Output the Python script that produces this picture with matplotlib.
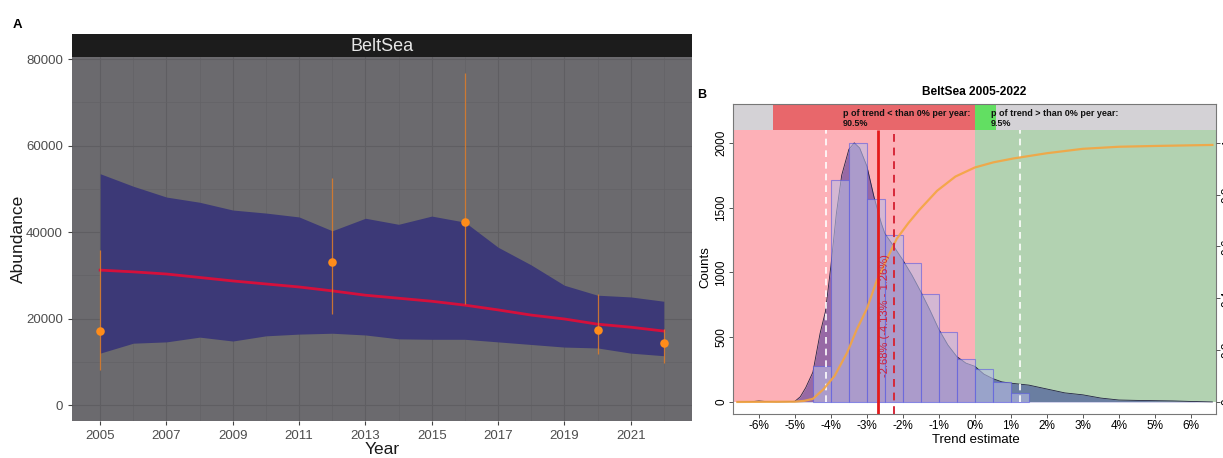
import numpy as np
import matplotlib
matplotlib.use('Agg')
import matplotlib.pyplot as plt
from matplotlib.patches import Rectangle

plt.rcParams['font.family'] = ['Liberation Sans', 'DejaVu Sans']

# ---- Panel A data (abundance model, BeltSea)
years = list(range(2005, 2023))
upper = [53500, 50600, 48100, 46900, 45100, 44400, 43500, 40300, 43200,
         41800, 43700, 42300, 36500, 32400, 27700, 25400, 25000, 24000]
lower = [12000, 14300, 14600, 15700, 14800, 16000, 16400, 16600, 16200,
         15300, 15200, 15200, 14600, 14000, 13400, 13200, 12000, 11400]
trend = [31200, 30800, 30300, 29500, 28700, 28000, 27300, 26400, 25400,
         24700, 24000, 23100, 22000, 20800, 19900, 18700, 18000, 17100]
obs_years = [2005, 2012, 2016, 2020, 2022]
obs = [17100, 33100, 42300, 17300, 14300]
obs_lo = [8100, 21000, 23400, 11800, 9700]
obs_hi = [35800, 52500, 76700, 25600, 17500]

# ---- Panel B data (trend distribution)
bin_edges = [-4.5, -4.0, -3.5, -3.0, -2.5, -2.0, -1.5, -1.0, -0.5, 0.0, 0.5, 1.0, 1.5]
counts = [280, 1710, 2000, 1570, 1290, 1075, 834, 540, 330, 255, 155, 70]
dens_x = [-6.6, -6.2, -6.0, -5.8, -5.5, -5.2, -5.0, -4.85, -4.7, -4.5, -4.3, -4.15,
          -4.0, -3.85, -3.7, -3.5, -3.35, -3.2, -3.0, -2.8, -2.6, -2.5, -2.25, -2.0,
          -1.75, -1.5, -1.25, -1.0, -0.75, -0.5, -0.25, 0.0, 0.25, 0.5, 0.75, 1.0,
          1.5, 2.0, 2.5, 3.0, 3.5, 4.0, 4.5, 5.0, 5.5, 6.0, 6.6]
dens_y = [0, 2, 8, 3, 0, 2, 5, 40, 110, 230, 530, 700,
          1050, 1450, 1750, 1950, 2000, 1960, 1820, 1580, 1380, 1300, 1200, 1095,
          980, 850, 710, 560, 440, 350, 300, 275, 215, 180, 155, 145,
          130, 100, 70, 55, 30, 15, 12, 10, 8, 4, 0]
cum_x = [-6.6, -5.0, -4.75, -4.5, -4.2, -3.9, -3.55, -3.28, -3.0, -2.72, -2.45,
         -2.17, -1.85, -1.55, -1.05, -0.54, 0.0, 0.52, 1.08, 2.0, 3.0, 4.0, 5.0, 6.6]
cum_y = [0, 0.001, 0.004, 0.012, 0.05, 0.1, 0.19, 0.28, 0.36, 0.47, 0.55,
         0.63, 0.69, 0.74, 0.815, 0.87, 0.905, 0.925, 0.94, 0.96, 0.977, 0.985, 0.988, 0.992]
median = -2.68
mean_est = -2.25
ci_lo, ci_hi = -4.13, 1.26
p_neg, p_pos = 90.5, 9.5
xticks_b = list(range(-6, 7))

W, H = 1223, 458
fig = plt.figure(figsize=(W / 100, H / 100), dpi=100)
fig.patch.set_facecolor('white')


def px_axes(l, t, r, b):
    return fig.add_axes([l / W, 1 - b / H, (r - l) / W, (b - t) / H])


# ================= Panel A
axA = px_axes(72, 57, 692, 421)
axA.set_facecolor('#6b6a6e')
axA.fill_between(years, lower, upper, color='#3c3977', lw=0, zorder=2)
axA.plot(years, trend, color='#d4103c', lw=2, zorder=3)
axA.vlines(obs_years, obs_lo, obs_hi, color='#e07d2a', lw=0.9, alpha=0.85, zorder=4)
axA.scatter(obs_years, obs, s=38, color='#ff8c1a', zorder=5, linewidths=0)
axA.set_xlim(2004.15, 2022.85)
axA.set_ylim(-3700, 80500)
axA.set_xticks(range(2005, 2023, 2))
axA.set_xticks(range(2006, 2023, 2), minor=True)
axA.set_yticks(range(0, 80001, 20000))
axA.set_yticks(range(10000, 80001, 20000), minor=True)
axA.grid(which='major', color='#5f5e62', lw=0.8, zorder=0)
axA.grid(which='minor', color='#636266', lw=0.5, zorder=0)
axA.set_axisbelow(True)
for s in axA.spines.values():
    s.set_visible(False)
axA.tick_params(which='major', length=3, color='#444444', labelcolor='#4d4d4d', labelsize=9.5)
axA.tick_params(which='minor', length=0)
fig.text(382 / W, 1 - 450 / H, 'Year', ha='center', va='center', size=12.5, color='#1a1a1a')
fig.text(18 / W, 1 - 239 / H, 'Abundance', ha='center', va='center', rotation=90, size=12.5, color='#1a1a1a')

strip = px_axes(72, 34, 692, 57)
strip.set_facecolor('#1c1c1c')
strip.set_xticks([])
strip.set_yticks([])
for s in strip.spines.values():
    s.set_visible(False)
strip.text(0.5, 0.47, 'BeltSea', ha='center', va='center', color='#e6e6e6', size=13,
           transform=strip.transAxes)
fig.text(17 / W, 1 - 25 / H, 'A', ha='center', va='center', weight='bold', size=9.5)

# ================= Panel B
axB = px_axes(733, 104, 1216, 414)
xl, xr = -6.72, 6.70
yb, strip_lo, strip_hi = -93, 2100, 2300
axB.set_xlim(xl, xr)
axB.set_ylim(yb, strip_hi)

axB.add_patch(Rectangle((xl, 0), 0 - xl, strip_lo, color='#fdb0b7', lw=0, zorder=0))
axB.add_patch(Rectangle((0, 0), xr, strip_lo, color='#b2d2b1', lw=0, zorder=0))
axB.add_patch(Rectangle((xl, strip_lo), xr - xl, strip_hi - strip_lo, color='#d4d2d6', lw=0, zorder=6))
k = 6.2 / 100
axB.add_patch(Rectangle((-p_neg * k, strip_lo), p_neg * k, strip_hi - strip_lo, color='#e8676b', lw=0, zorder=7))
axB.add_patch(Rectangle((0, strip_lo), p_pos * k, strip_hi - strip_lo, color='#62df62', lw=0, zorder=7))
axB.text(-3.67, 2188, f'p of trend < than 0% per year:\n{p_neg:.1f}%', ha='left', va='center',
         size=6.5, weight='bold', linespacing=1.05, zorder=8, color='#111111')
axB.text(0.44, 2188, f'p of trend > than 0% per year:\n{p_pos:.1f}%', ha='left', va='center',
         size=6.5, weight='bold', linespacing=1.05, zorder=8, color='#111111')

axB.fill_between(dens_x, dens_y, color='#00008b', alpha=0.4, lw=0, zorder=2)
axB.plot(dens_x, dens_y, color='#222244', lw=0.6, zorder=2)
axB.bar(bin_edges[:-1], counts, width=0.5, align='edge', color='#b9bde6', alpha=0.6,
        edgecolor='#5a5ae0', linewidth=0.8, zorder=3)

axB.vlines([ci_lo, ci_hi], 0, strip_lo, colors='white', linestyles=(0, (4, 3)), lw=1.2, zorder=4)
axB.plot(cum_x, np.array(cum_y) * 2000, color='#f4a540', lw=1.6, alpha=0.9, zorder=5)
axB.vlines(median, yb, strip_lo, colors='#e41a1c', lw=2, zorder=5)
axB.vlines(mean_est, yb, strip_lo, colors='#d62839', linestyles=(0, (4, 3)), lw=1.4, zorder=5)
axB.text(-2.5, 664, f'{median:.2f}% ({ci_lo:.2f}% - {ci_hi:.2f}%)', rotation=90,
         ha='center', va='center', color='#d0203a', size=8, zorder=6)

axB.set_xticks(xticks_b)
axB.set_xticklabels([f'{v}%' for v in xticks_b])
axB.set_yticks(range(0, 2001, 500))
axB.set_yticklabels([str(v) for v in range(0, 2001, 500)], rotation=90, va='center')
axB.tick_params(length=3, width=0.7, color='#555555', labelsize=8.5, pad=1)
for s in axB.spines.values():
    s.set_color('#777777')
    s.set_linewidth(0.8)
    s.set_zorder(9)

ax2 = axB.twinx()
ax2.set_ylim(yb / 2000, strip_hi / 2000)
ax2.set_yticks([0, 0.2, 0.4, 0.6, 0.8, 1.0])
ax2.set_yticklabels(['0', '0.2', '0.4', '0.6', '0.8', '1'], rotation=90, va='center')
ax2.tick_params(length=3, width=0.7, color='#555555', labelsize=8.5, pad=1)
for s in ax2.spines.values():
    s.set_visible(False)

fig.text(976 / W, 1 - 440 / H, 'Trend estimate', ha='center', va='center', size=9.5)
fig.text(705 / W, 1 - 267 / H, 'Counts', ha='center', va='center', rotation=90, size=9.5)
fig.text(974 / W, 1 - 92 / H, 'BeltSea 2005-2022', ha='center', va='center', weight='bold', size=8.6)
fig.text(702 / W, 1 - 95 / H, 'B', ha='center', va='center', weight='bold', size=9)

fig.savefig('out.png', dpi=100)
